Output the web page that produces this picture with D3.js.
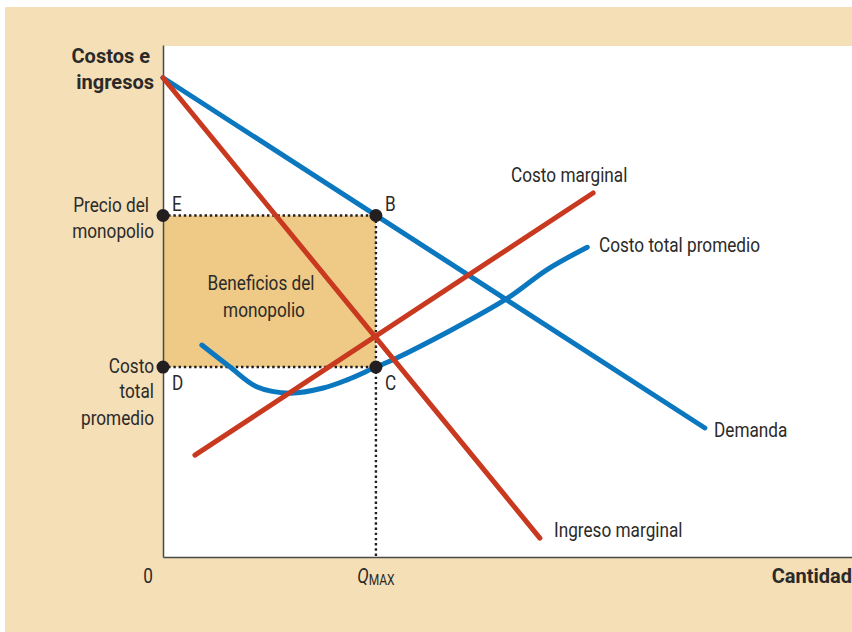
<!DOCTYPE html>
<html>
<head>
<meta charset="utf-8">
<script src="https://cdn.jsdelivr.net/npm/d3@7"></script>
<style>
  html, body { margin: 0; padding: 0; background: #fff; }
  svg text { font-family: "Roboto", "Liberation Sans", sans-serif; fill: #2b2a29; font-size: 20px; }
</style>
</head>
<body>
<div id="chart"></div>
<script>
// curves (quantity, cost/price)
const demand = [[0, 9.36], [10.18, 2.52]];
const marginalRevenue = [[0, 9.36], [7.08, 0.37]];
const marginalCost = [[0.60, 1.99], [8.08, 7.11]];
const averageCost = [[0.73, 4.14], [1.26, 3.71], [1.77, 3.32], [2.39, 3.20], [3.01, 3.30],
                     [3.46, 3.46], [4.00, 3.71], [4.40, 3.89], [6.42, 5.02], [7.21, 5.61], [7.97, 6.05]];

const qMax = 4;
const monopolyPrice = 6.67;
const avgCostAtQ = 3.71;

const w = 852;
const h = 632;

const blue = '#0b77bf';
const red = '#c9391f';
const squeeze = 0.86; // the original uses a condensed face

const svg = d3.select('#chart')
    .append('svg')
    .attr('width', w)
    .attr('height', h);

// beige frame
svg.append('rect')
   .attr('x', 5).attr('y', 7)
   .attr('width', w - 5).attr('height', h - 7)
   .attr('fill', '#f5dfb7');

const xScale = d3.scaleLinear().domain([0, 13]).range([163, 855]);
const yScale = d3.scaleLinear().domain([0, 10]).range([557, 45]);

const addText = (x, y, str, anchor, bold) => {
    return svg.append('text')
       .attr('transform', `translate(${x},${y}) scale(${bold ? 1 : squeeze},1)`)
       .attr('text-anchor', anchor || 'start')
       .style('font-weight', bold ? 'bold' : 'normal')
       .text(str);
}

// white plot area
svg.append('rect')
   .attr('x', xScale(0)).attr('y', 46)
   .attr('width', w - xScale(0)).attr('height', yScale(0) - 46)
   .attr('fill', '#fff');

// profit rectangle
svg.append('rect')
   .attr('x', xScale(0))
   .attr('y', yScale(monopolyPrice))
   .attr('width', xScale(qMax) - xScale(0))
   .attr('height', yScale(avgCostAtQ) - yScale(monopolyPrice))
   .attr('fill', '#eeca86');

addText(261, 290, 'Beneficios del', 'middle');
addText(264, 317, 'monopolio', 'middle');

// axes
const xAxis = d3.axisBottom(xScale).tickValues([]).tickSizeOuter(0);
const yAxis = d3.axisLeft(yScale).tickValues([]).tickSizeOuter(0);

svg.append('g')
   .attr('transform', 'translate(0,' + yScale(0) + ')')
   .call(xAxis)
   .select('.domain').attr('stroke', '#4a4a4a').attr('stroke-width', 1.5);

svg.append('g')
   .attr('transform', 'translate(' + xScale(0) + ',0)')
   .call(yAxis)
   .select('.domain').attr('stroke', '#4a4a4a').attr('stroke-width', 1.5);

// dotted guides
const dotted = (x1, y1, x2, y2) => {
    svg.append('line')
       .attr('x1', xScale(x1)).attr('y1', yScale(y1))
       .attr('x2', xScale(x2)).attr('y2', yScale(y2))
       .attr('stroke', '#231f20')
       .attr('stroke-width', 2.4)
       .attr('stroke-dasharray', '2.4,2.8');
}
dotted(0, monopolyPrice, qMax, monopolyPrice);
dotted(0, avgCostAtQ, qMax, avgCostAtQ);
dotted(qMax, monopolyPrice, qMax, 0);

// curves
const line = d3.line()
    .x(d => xScale(d[0]))
    .y(d => yScale(d[1]));

const drawCurve = (data, color, curve) => {
    svg.append('path')
       .datum(data)
       .attr('d', line.curve(curve || d3.curveLinear))
       .attr('fill', 'none')
       .attr('stroke', color)
       .attr('stroke-width', 5)
       .attr('stroke-linecap', 'round');
}

drawCurve(averageCost, blue, d3.curveCatmullRom);
drawCurve(demand, blue);
drawCurve(marginalCost, red);
drawCurve(marginalRevenue, red);

// points
const points = [
    {q: 0, p: monopolyPrice, name: 'E'},
    {q: qMax, p: monopolyPrice, name: 'B'},
    {q: 0, p: avgCostAtQ, name: 'D'},
    {q: qMax, p: avgCostAtQ, name: 'C'}
];

svg.selectAll('.pt')
   .data(points)
   .enter()
   .append('circle')
   .attr('class', 'pt')
   .attr('cx', d => xScale(d.q))
   .attr('cy', d => yScale(d.p))
   .attr('r', 6.5)
   .attr('fill', '#231f20');

points.forEach(d => {
    addText(xScale(d.q) + 9, d.p === monopolyPrice ? yScale(d.p) - 4 : yScale(d.p) + 23, d.name);
});

// curve labels
const curveLabels = [
    {text: 'Costo marginal', x: 511, y: 182},
    {text: 'Costo total promedio', x: 599, y: 252},
    {text: 'Demanda', x: 714, y: 437},
    {text: 'Ingreso marginal', x: 554, y: 537}
];
curveLabels.forEach(d => addText(d.x, d.y, d.text));

// y labels
const leftLabels = [
    {text: 'Costos e', x: 150, y: 63, bold: true},
    {text: 'ingresos', x: 154, y: 89, bold: true},
    {text: 'Precio del', x: 149, y: 212},
    {text: 'monopolio', x: 154, y: 238},
    {text: 'Costo', x: 154, y: 373},
    {text: 'total', x: 154, y: 398},
    {text: 'promedio', x: 154, y: 425}
];
leftLabels.forEach(d => addText(d.x, d.y, d.text, 'end', d.bold));

// x labels
addText(148, 583, '0', 'middle');

const qLabel = addText(xScale(qMax), 583, '', 'middle');
qLabel.append('tspan').style('font-style', 'italic').text('Q');
qLabel.append('tspan').attr('dy', 2).style('font-size', '14px').text('MAX');

addText(852, 583, 'Cantidad', 'end', true);
</script>
</body>
</html>
